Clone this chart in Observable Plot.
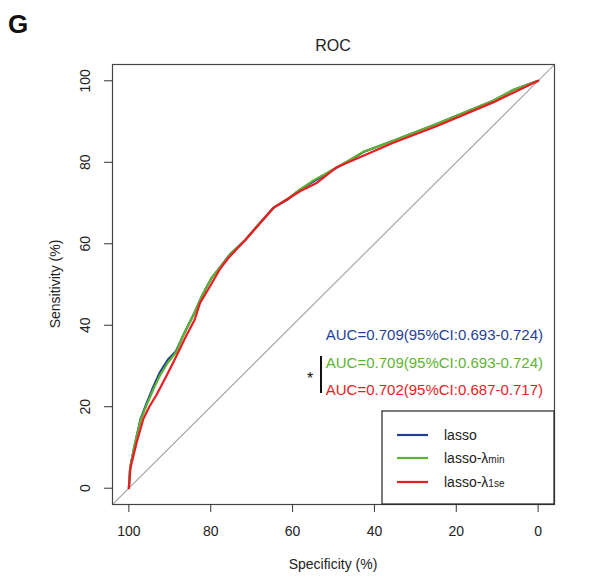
<!DOCTYPE html>
<html><head><meta charset="utf-8">
<script src="https://cdn.jsdelivr.net/npm/d3@7"></script>
<script src="https://cdn.jsdelivr.net/npm/@observablehq/plot@0.6"></script>
<style>body{margin:0;background:#fff}svg{display:block}</style>
</head><body><div id="c"></div>
<script>
// Specificity (%) , Sensitivity (%)
const lassoSpec = [100,99.7,98.5,97.2,95.5,94.0,92.5,90.5,88.5,86.5,84.0,82.0,79.8,77.5,75.3,71.5,68.0,64.7,61.0,58.2,55.0,50.0,46.0,42.7,35.4,25.0,11.0,6.0,0];
const lassoSens = [0,5.0,11.0,16.8,21.3,25.0,28.3,31.5,33.6,38.0,43.0,47.5,51.6,54.5,57.4,61.0,65.1,68.8,71.0,73.3,75.2,78.2,80.5,82.5,85.3,89.3,95.1,97.8,100];
const minSpec = [100,99.7,98.5,97.2,95.5,94.0,92.5,90.5,88.5,86.5,84.0,82.0,79.8,77.5,75.3,71.5,68.0,64.7,61.0,58.2,55.0,50.0,46.0,42.7,35.4,25.0,11.0,6.0,0];
const minSens = [0,5.0,11.0,16.5,20.8,24.3,27.5,30.8,33.3,38.0,43.0,47.5,51.6,54.5,57.4,61.0,65.1,68.8,71.2,73.3,75.5,78.3,80.6,82.6,85.3,89.3,95.1,97.8,100];
const se1Spec = [100,99.6,98.1,96.5,95.0,93.2,90.8,88.4,86.2,83.9,82.6,80.2,77.8,75.7,71.5,67.2,64.7,61.5,58.2,54.0,49.2,35.4,25.0,11.0,0];
const se1Sens = [0,5.0,11.2,16.9,20.0,23.0,27.6,32.4,37.0,41.4,45.5,49.5,53.7,56.5,61.0,65.9,68.8,70.8,72.9,75.0,78.8,84.8,88.8,94.7,100];
const diagSpec = [104,-4];
const diagSens = [-4,104];
const xTicks = [100,80,60,40,20,0];
const yTicks = [0,20,40,60,80,100];
const seriesNames = ["lasso","lasso-λmin","lasso-λ1se"];
const seriesColors = ["#1f3f9a","#5db52f","#ec1c24"];
const aucLabels = ["AUC=0.709(95%CI:0.693-0.724)","AUC=0.709(95%CI:0.693-0.724)","AUC=0.702(95%CI:0.687-0.717)"];

const mk = (sp, se, name) => sp.map((s,i)=>({spec:s, sens:se[i], name}));
const rows = [
  ...mk(lassoSpec, lassoSens, seriesNames[0]),
  ...mk(minSpec, minSens, seriesNames[1]),
  ...mk(se1Spec, se1Sens, seriesNames[2])
];
const diag = diagSpec.map((s,i)=>({spec:s, sens:diagSens[i]}));
const font = "'Liberation Sans', Arial, sans-serif";

const W = 589, H = 578, mL = 112, mR = 35, mT = 64, mB = 74;
const plot = Plot.plot({
  width: W, height: H,
  marginLeft: mL, marginRight: mR, marginTop: mT, marginBottom: mB,
  style: {fontFamily: font, fontSize: "14px", color: "#222", background: "#fff"},
  x: {domain: [104, -4]},
  y: {domain: [-4, 104]},
  color: {domain: seriesNames, range: seriesColors},
  marks: [
    Plot.line(diag, {x: "spec", y: "sens", stroke: "#a8a8a8", strokeWidth: 1.2, clip: true}),
    Plot.line(rows, {x: "spec", y: "sens", z: "name", stroke: "name", strokeWidth: 2.2}),
    Plot.frame({stroke: "#444", strokeWidth: 1.2}),
    Plot.axisX({ticks: xTicks, tickSize: 8, tickPadding: 14, tickFormat: d => String(d), label: null, stroke: "#333", fontSize: 14}),
    Plot.axisY({ticks: yTicks, tickSize: 8, tickFormat: () => "", label: null, stroke: "#333"}),
    Plot.text(yTicks, {y: d => d, text: d => String(d), frameAnchor: "left", dx: -27, rotate: -90, textAnchor: "middle", fontSize: 14, fill: "#222"})
  ]
});
document.getElementById("c").appendChild(plot);

const svg = d3.select(plot);
const g = svg.append("g").attr("font-family", font).attr("text-anchor", "start");
// panel letter and title
g.append("text").attr("x", 8).attr("y", 33).attr("text-anchor", "start").attr("font-size", 26).attr("font-weight", "bold").attr("fill", "#111").text("G");
g.append("text").attr("x", (mL + W - mR) / 2).attr("y", 51).attr("text-anchor", "middle").attr("font-size", 16).attr("fill", "#222").text("ROC");
// axis titles
g.append("text").attr("x", (mL + W - mR) / 2).attr("y", 569).attr("text-anchor", "middle").attr("font-size", 14).attr("fill", "#222").text("Specificity (%)");
g.append("text").attr("transform", `translate(60,${(mT + H - mB) / 2}) rotate(-90)`).attr("text-anchor", "middle").attr("font-size", 14).attr("fill", "#222").text("Sensitivity (%)");

// AUC labels
const aucY = [335, 363, 390];
aucLabels.forEach((t, i) => {
  g.append("text").attr("x", 543).attr("y", aucY[i]).attr("dy", "0.35em").attr("text-anchor", "end")
    .attr("font-size", 15).attr("fill", seriesColors[i]).text(t);
});
g.append("line").attr("x1", 321).attr("x2", 321).attr("y1", 356).attr("y2", 393).attr("stroke", "#111").attr("stroke-width", 2);
g.append("text").attr("x", 310).attr("y", 384).attr("text-anchor", "middle").attr("font-size", 16).attr("fill", "#111").text("*");

// legend box
const lx = 382, ly = 411, lr = W - mR, lb = H - mB;
g.append("rect").attr("x", lx).attr("y", ly).attr("width", lr - lx).attr("height", lb - ly)
  .attr("fill", "#fff").attr("stroke", "#222").attr("stroke-width", 1.2);
const legY = [435, 458, 482];
seriesNames.forEach((n, i) => {
  g.append("line").attr("x1", 397).attr("x2", 428).attr("y1", legY[i]).attr("y2", legY[i])
    .attr("stroke", seriesColors[i]).attr("stroke-width", 2.2);
  const t = g.append("text").attr("x", 444).attr("y", legY[i]).attr("dy", "0.35em").attr("text-anchor", "start").attr("font-size", 14).attr("fill", "#222");
  if (i === 0) t.text("lasso");
  else {
    t.append("tspan").text("lasso-λ");
    t.append("tspan").attr("font-size", 10).text(i === 1 ? "min" : "1se");
  }
});
</script>
</body></html>
